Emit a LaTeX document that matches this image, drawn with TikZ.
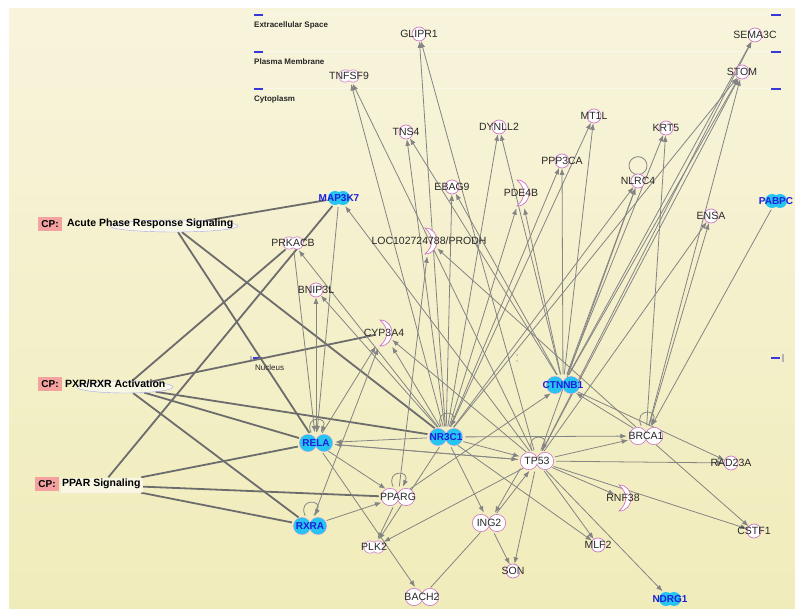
\documentclass[tikz,border=0pt]{standalone}
\usepackage{fontspec}
\setmainfont{Liberation Sans}
\usetikzlibrary{positioning,arrows.meta,shapes.geometric}

\definecolor{paperlight}{RGB}{248,244,220}
\definecolor{paperdark}{RGB}{240,236,186}
\definecolor{edgegray}{RGB}{132,132,132}
\definecolor{cpgray}{RGB}{108,108,108}
\definecolor{genepink}{RGB}{206,118,196}
\definecolor{molcyan}{RGB}{38,196,240}
\definecolor{molblue}{RGB}{30,30,215}
\definecolor{cppink}{RGB}{244,162,160}
\definecolor{locblue}{RGB}{55,55,220}
\definecolor{txtgray}{RGB}{40,40,40}

\pgfdeclarelayer{paperlayer}
\pgfdeclarelayer{edgelayer}
\pgfsetlayers{paperlayer,edgelayer,main}

\newcommand{\lbl}[1]{\makebox[0pt]{#1}}
\newcommand{\genefont}{\fontsize{10.5}{12}\selectfont}

\tikzstyle{gene} = [circle, draw=genepink, fill=white, line width=0.7pt, minimum size=14pt, inner sep=0pt, font=\genefont, text=txtgray]
\tikzstyle{pair} = [ellipse, minimum width=38pt, minimum height=21pt, inner sep=0pt, font=\genefont, text=txtgray,
  path picture={\fill[genepink] ([xshift=-8pt]path picture bounding box.center) circle (9pt) ([xshift=8pt]path picture bounding box.center) circle (9pt);
                \fill[white] ([xshift=-8pt]path picture bounding box.center) circle (8.2pt) ([xshift=8pt]path picture bounding box.center) circle (8.2pt);}]
\tikzstyle{smallpair} = [ellipse, minimum width=24pt, minimum height=16pt, inner sep=0pt, font=\genefont, text=txtgray,
  path picture={\fill[genepink] ([xshift=-4pt]path picture bounding box.center) circle (6.5pt) ([xshift=4pt]path picture bounding box.center) circle (6.5pt);
                \fill[white] ([xshift=-4pt]path picture bounding box.center) circle (5.8pt) ([xshift=4pt]path picture bounding box.center) circle (5.8pt);}]
\tikzstyle{enzyme} = [rectangle, minimum width=16pt, minimum height=30pt, inner sep=0pt, font=\genefont, text=txtgray,
  path picture={\draw[genepink, fill=white, line width=0.7pt] ([shift={(-4pt,-13pt)}]path picture bounding box.center)
      .. controls +(16pt,0pt) and +(16pt,0pt) .. ([shift={(-4pt,13pt)}]path picture bounding box.center)
      .. controls +(9pt,-8pt) and +(9pt,8pt) .. ([shift={(-4pt,-13pt)}]path picture bounding box.center) -- cycle;}]
\tikzstyle{mol} = [ellipse, minimum width=38pt, minimum height=21pt, inner sep=0pt, font=\bfseries\fontsize{10}{12}\selectfont, text=molblue,
  path picture={\fill[genepink!60] ([xshift=-8pt]path picture bounding box.center) circle (9pt) ([xshift=8pt]path picture bounding box.center) circle (9pt);
                \fill[molcyan] ([xshift=-8pt]path picture bounding box.center) circle (8.4pt) ([xshift=8pt]path picture bounding box.center) circle (8.4pt);}]
\tikzstyle{molsmall} = [ellipse, minimum width=26pt, minimum height=18pt, inner sep=0pt, font=\bfseries\fontsize{10}{12}\selectfont, text=molblue,
  path picture={\fill[molcyan] ([xshift=-4pt]path picture bounding box.center) circle (7pt) ([xshift=4pt]path picture bounding box.center) circle (7pt);}]
\tikzstyle{cpbox} = [fill=cppink, font=\bfseries\fontsize{10}{12}\selectfont, inner sep=3pt, minimum height=14pt]
\tikzstyle{cpname} = [font=\bfseries\fontsize{10.5}{12}\selectfont, inner sep=1pt, text=black]
\tikzstyle{cpring} = [ellipse, draw=locblue!45, fill=white, fill opacity=0.55, minimum height=12pt, inner sep=0pt]
\tikzstyle{tag} = [font=\bfseries\fontsize{8}{9}\selectfont, anchor=west, inner sep=0pt, text=black!85]
\tikzstyle{locmark} = [draw=locblue, line width=1.8pt]
\tikzstyle{rel} = [draw=edgegray, line width=0.8pt, -{Latex[length=6.5pt,width=5pt]}]
\tikzstyle{cpline} = [draw=cpgray, line width=1.8pt]
\tikzstyle{selfloop} = [out=115, in=65, min distance=12pt, looseness=5]

\begin{document}
\begin{tikzpicture}[x=1pt, y=-1pt]
    \useasboundingbox (0,0) rectangle (795,609);
    \begin{pgfonlayer}{paperlayer}
    \fill[white] (0,0) rectangle (795,609);
    \shade[top color=paperlight, bottom color=paperdark] (9,9) rectangle (795,609);
    % compartment bands
    \foreach \y in {15,52,89} {
        \draw[white, opacity=0.35, line width=1pt] (264,\y) -- (770,\y);
        \draw[locmark] (254,\y) -- (263,\y);
        \draw[locmark] (771,\y) -- (781,\y);
    }
    \draw[locmark] (253,358) -- (262,358);
    \fill[gray!60] (250,356) rectangle (252,360);
    \draw[locmark] (771,358) -- (780,358);
    \fill[gray!60] (782,354) rectangle (784,362);
    \fill[gray!55] (517,355) circle (1pt) (517,361) circle (1pt);
    \end{pgfonlayer}
    \node[tag] (ecs) at (254,25) {Extracellular Space};
    \node[tag] (pm) at (254,62) {Plasma Membrane};
    \node[tag] (cyto) at (254,99) {Cytoplasm};
    \node[tag, font=\fontsize{8}{9}\selectfont] (nuc) at (255,368) {Nucleus};

    % Place canonical pathways
    \node[cpring, minimum width=128pt] (apr) at (174,226) {};
    \node[cpbox] (cpa) at (50,224) {CP:};
    \node[cpname, right=4pt of cpa] (aprtext) {Acute Phase Response Signaling};
    \node[cpring, minimum width=96pt] (pxr) at (125,387) {};
    \node[cpbox] (cpb) at (50,384) {CP:};
    \node[cpname, right=2pt of cpb] (pxrtext) {PXR/RXR Activation};
    \node[cpring, rectangle, draw=none, minimum width=82pt, minimum height=15pt] (ppar) at (102,485) {};
    \node[cpbox] (cpc) at (47,484) {CP:};
    \node[cpname, right=2pt of cpc] (ppartext) {PPAR Signaling};

    % Place molecules
    \node[gene] (glipr1) at (419,34) {\lbl{GLIPR1}};
    \node[gene] (sema3c) at (755,35) {\lbl{SEMA3C}};
    \node[gene] (stom) at (742,72) {\lbl{STOM}};
    \node[smallpair] (tnfsf9) at (349,76) {\lbl{TNFSF9}};
    \node[gene] (tns4) at (406,132) {\lbl{TNS4}};
    \node[gene] (dynll2) at (499,127) {\lbl{DYNLL2}};
    \node[gene] (mt1l) at (594,116) {\lbl{MT1L}};
    \node[gene] (krt5) at (666,128) {\lbl{KRT5}};
    \node[gene] (ppp3ca) at (562,161) {\lbl{PPP3CA}};
    \node[gene] (nlrc4) at (638,181) {\lbl{NLRC4}};
    \node[gene] (ebag9) at (452,187) {\lbl{EBAG9}};
    \node[enzyme] (pde4b) at (521,193) {\lbl{PDE4B}};
    \node[gene] (ensa) at (711,216) {\lbl{ENSA}};
    \node[molsmall] (pabpc) at (776,201) {\lbl{PABPC}};
    \node[molsmall] (map3k7) at (339,198) {\lbl{MAP3K7}};
    \node[smallpair] (prkacb) at (293,243) {\lbl{PRKACB}};
    \node[enzyme] (loc) at (429,241) {\lbl{LOC102724788/PRODH}};
    \node[gene] (bnip3l) at (316,290) {\lbl{BNIP3L}};
    \node[enzyme] (cyp3a4) at (384,333) {\lbl{CYP3A4}};
    \node[mol] (ctnnb1) at (563,385) {\lbl{CTNNB1}};
    \node[mol] (rela) at (316,443) {\lbl{RELA}};
    \node[mol] (nr3c1) at (446,437) {\lbl{NR3C1}};
    \node[pair] (brca1) at (646,436) {\lbl{BRCA1}};
    \node[pair] (tp53) at (537,461) {\lbl{TP53}};
    \node[gene] (rad23a) at (731,463) {\lbl{RAD23A}};
    \node[pair] (pparg) at (398,497) {\lbl{PPARG}};
    \node[enzyme] (rnf38) at (623,498) {\lbl{RNF38}};
    \node[mol] (rxra) at (310,526) {\lbl{RXRA}};
    \node[pair] (ing2) at (489,523) {\lbl{ING2}};
    \node[smallpair] (plk2) at (374,547) {\lbl{PLK2}};
    \node[gene] (mlf2) at (598,545) {\lbl{MLF2}};
    \node[gene] (cstf1) at (754,531) {\lbl{CSTF1}};
    \node[gene] (son) at (513,571) {\lbl{SON}};
    \node[pair] (bach2) at (422,597) {\lbl{BACH2}};
    \node[molsmall] (ndrg1) at (670,599) {\lbl{NDRG1}};

    \begin{pgfonlayer}{edgelayer}
    % Draw pathway links
    \draw[cpline] (apr) -- (map3k7);
    \draw[cpline] (apr) -- (rela);
    \draw[cpline] (apr) -- (nr3c1);
    \draw[cpline] (pxr) -- (prkacb);
    \draw[cpline] (pxr) -- (cyp3a4);
    \draw[cpline] (pxr) -- (rela);
    \draw[cpline] (pxr) -- (rxra);
    \draw[cpline] (pxr) -- (nr3c1);
    \draw[cpline] (ppar) -- (map3k7);
    \draw[cpline] (ppar) -- (rela);
    \draw[cpline] (ppar) -- (pparg);
    \draw[cpline] (ppar) -- (rxra);
    % Draw edges
    \draw[rel] (nr3c1) -- (tnfsf9);
    \draw[rel] (nr3c1) -- (glipr1);
    \draw[rel] (nr3c1) -- (tns4);
    \draw[rel] (nr3c1) -- (dynll2);
    \draw[rel] (nr3c1) -- (ebag9);
    \draw[rel] (nr3c1) -- (pde4b);
    \draw[rel] (nr3c1) -- (ppp3ca);
    \draw[rel] (nr3c1) -- (mt1l);
    \draw[rel] (nr3c1) -- (nlrc4);
    \draw[rel] (nr3c1) -- (stom);
    \draw[rel] (nr3c1) -- (bnip3l);
    \draw[rel] (nr3c1) -- (prkacb);
    \draw[rel] (nr3c1) -- (cyp3a4);
    \draw[rel] (nr3c1) -- (rela);
    \draw[rel] (nr3c1) -- (brca1);
    \draw[rel] (nr3c1) -- (tp53);
    \draw[rel] (nr3c1) -- (ing2);
    \draw[rel] (nr3c1) -- (plk2);
    \draw[rel] (nr3c1) -- (mlf2);
    \draw[rel] (tp53) -- (tnfsf9);
    \draw[rel] (tp53) -- (glipr1);
    \draw[rel] (tp53) -- (map3k7);
    \draw[rel] (tp53) -- (nlrc4);
    \draw[rel] (tp53) -- (stom);
    \draw[rel] (tp53) -- (sema3c);
    \draw[rel] (tp53) -- (ensa);
    \draw[rel] (tp53) -- (cyp3a4);
    \draw[rel] (tp53) -- (rela);
    \draw[rel] (tp53) -- (brca1);
    \draw[rel] (tp53) -- (rad23a);
    \draw[rel] (tp53) -- (rnf38);
    \draw[rel] (tp53) -- (cstf1);
    \draw[rel] (tp53) -- (mlf2);
    \draw[rel] (tp53) -- (ndrg1);
    \draw[rel] (tp53) -- (son);
    \draw[rel] (tp53) -- (plk2);
    \draw[rel] ([xshift=-3pt]tp53.south west) -- (ing2);
    \draw[rel] (ing2) -- (tp53);
    \draw[rel] (ctnnb1) -- (tns4);
    \draw[rel] (ctnnb1) -- (ebag9);
    \draw[rel] (ctnnb1) -- (dynll2);
    \draw[rel] (ctnnb1) -- (pde4b);
    \draw[rel] (ctnnb1) -- (ppp3ca);
    \draw[rel] (ctnnb1) -- (mt1l);
    \draw[rel] (ctnnb1) -- (nlrc4);
    \draw[rel] (ctnnb1) -- (krt5);
    \draw[rel] (ctnnb1) -- (stom);
    \draw[rel] (ctnnb1) -- (sema3c);
    \draw[rel] (ctnnb1) -- (rad23a);
    \draw[rel] (brca1) -- (ctnnb1);
    \draw[rel] (brca1) -- (stom);
    \draw[rel] (brca1) -- (krt5);
    \draw[rel] (brca1) -- (ensa);
    \draw[rel] (brca1) -- (cstf1);
    \draw[rel] (brca1) -- (loc);
    \draw[rel] (pabpc) -- (brca1);
    \draw[rel] (map3k7) -- (rela);
    \draw[rel] (prkacb) -- (rela);
    \draw[rel] (rela) -- (bnip3l);
    \draw[rel] (rela) -- (cyp3a4);
    \draw[rel] (rela) -- (pparg);
    \draw[rel] (rela) -- (bach2);
    \draw[rel] (rela) -- (tp53);
    \draw[rel] (rxra) -- (cyp3a4);
    \draw[rel] (rxra) -- (pparg);
    \draw[rel] (pparg) -- (plk2);
    \draw[rel] (pparg) -- (ctnnb1);
    \draw[rel] (pparg) -- (loc);
    \draw[rel] (ing2) -- (son);
    \draw[edgegray, line width=0.8pt] (ing2) -- (bach2);
    % self loops
    \draw[rel] (rela) to[selfloop] (rela);
    \draw[rel] (rxra) to[selfloop] (rxra);
    \draw[rel] (pparg) to[selfloop] (pparg);
    \draw[rel] (nr3c1) to[selfloop] (nr3c1);
    \draw[rel] (tp53) to[selfloop] (tp53);
    \draw[rel] (brca1) to[selfloop] (brca1);
    \draw[edgegray, line width=0.8pt] ([yshift=8pt]nlrc4.north) circle (9pt);
    \end{pgfonlayer}
\end{tikzpicture}
\end{document}
